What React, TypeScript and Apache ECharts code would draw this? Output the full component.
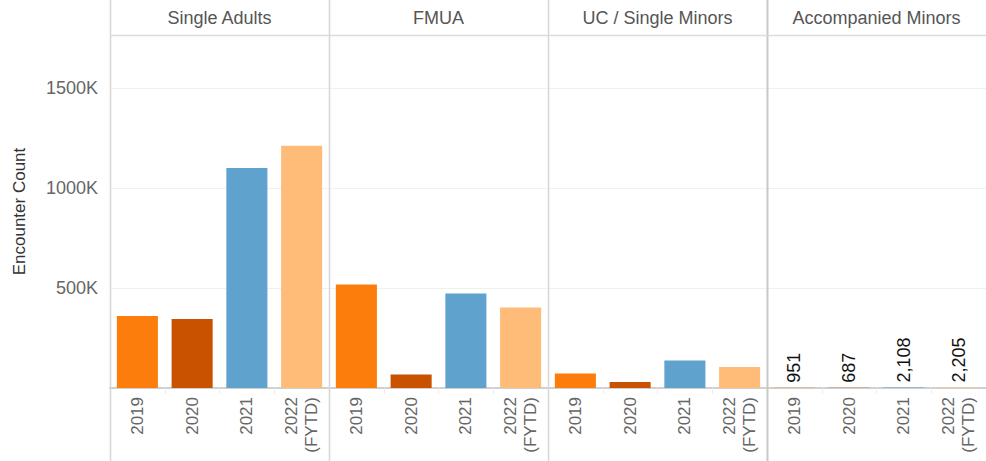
import React, { useEffect, useRef } from "react";
import * as echarts from "echarts";

const categories = ["2019", "2020", "2021", "2022\n(FYTD)"];
const panels = ["Single Adults", "FMUA", "UC / Single Minors", "Accompanied Minors"];
const singleAdults = [360000, 345000, 1100000, 1211000];
const fmua = [518000, 68000, 473000, 403000];
const ucSingleMinors = [73000, 30000, 138000, 105000];
const accompaniedMinors = [951, 687, 2108, 2205];
const yearColors = ["#fc7d0b", "#c85200", "#5fa2ce", "#ffbc79"];
const yMax = 1765000;
const yInterval = 500000;

const W = 986;
const H = 461;
const LEFT = 110;
const PANEL_W = 219;
const TOP = 35;
const AXIS_Y = 388;
const FONT = "'Liberation Sans', Arial, sans-serif";

export default function App() {
  const ref = useRef<HTMLDivElement>(null);
  useEffect(() => {
    if (!ref.current) return;
    const chart = echarts.init(ref.current, undefined, { renderer: "svg" });
    const seriesData = [singleAdults, fmua, ucSingleMinors, accompaniedMinors];
    const grids = panels.map((_, i) => ({
      left: LEFT + i * PANEL_W,
      width: PANEL_W,
      top: TOP,
      bottom: H - AXIS_Y,
      containLabel: false,
    }));
    const xAxes = panels.map((_, i) => ({
      type: "category",
      gridIndex: i,
      data: categories,
      axisLine: { show: true, lineStyle: { color: "#d0d0d0", width: 2 } },
      axisTick: { show: true, length: 6, lineStyle: { color: "#ececec" } },
      axisLabel: {
        rotate: 90,
        margin: 9,
        color: "#666666",
        fontSize: 17,
        fontFamily: FONT,
        lineHeight: 20,
        interval: 0,
      },
    }));
    const yAxes = panels.map((_, i) => ({
      type: "value",
      gridIndex: i,
      min: 0,
      max: yMax,
      interval: yInterval,
      axisLine: { show: false },
      axisTick: { show: false },
      splitLine: { show: true, lineStyle: { color: "#f0f0f0", width: 1 } },
      axisLabel: {
        show: i === 0,
        color: "#666666",
        fontSize: 18,
        fontFamily: FONT,
        margin: 12,
        formatter: (v: number) => (v > 0 && v % yInterval === 0 ? v / 1000 + "K" : ""),
      },
      name: i === 0 ? "Encounter Count" : "",
      nameLocation: "middle",
      nameGap: 82,
      nameRotate: 90,
      nameTextStyle: { color: "#333333", fontSize: 17, fontFamily: FONT },
    }));
    const series = seriesData.map((vals, i) => ({
      type: "bar",
      xAxisIndex: i,
      yAxisIndex: i,
      barCategoryGap: "25%",
      data: vals.map((v, j) => ({ value: v, itemStyle: { color: yearColors[j] } })),
      label:
        i === 3
          ? {
              show: true,
              position: "top",
              rotate: 90,
              align: "left",
              verticalAlign: "middle",
              distance: 5,
              color: "#111111",
              fontSize: 18,
              fontFamily: FONT,
              formatter: (p: any) => Number(p.value).toLocaleString("en-US"),
            }
          : { show: false },
    }));
    const graphics: any[] = [];
    panels.forEach((name, i) => {
      const x = LEFT + i * PANEL_W;
      graphics.push({
        type: "line",
        shape: { x1: x + 0.5, y1: 0, x2: x + 0.5, y2: H },
        style: { stroke: i === 3 ? "#c8c8c8" : "#d6d6d6", lineWidth: i === 3 ? 2 : 1.5 },
        z: 10,
      });
      graphics.push({
        type: "text",
        x: x + PANEL_W / 2,
        y: 18,
        style: {
          text: name,
          fill: "#555555",
          fontSize: 18,
          fontFamily: FONT,
          align: "center",
          verticalAlign: "middle",
        },
      });
    });
    graphics.push({
      type: "line",
      shape: { x1: LEFT, y1: TOP + 0.5, x2: W, y2: TOP + 0.5 },
      style: { stroke: "#dcdcdc", lineWidth: 1.5 },
      z: 10,
    });
    chart.setOption({
      animation: false,
      backgroundColor: "#ffffff",
      grid: grids,
      xAxis: xAxes,
      yAxis: yAxes,
      series,
      graphic: graphics,
    });
    return () => chart.dispose();
  }, []);
  return (
    <div
      ref={ref}
      style={{ position: "fixed", left: 0, top: 0, width: W, height: H }}
    />
  );
}
